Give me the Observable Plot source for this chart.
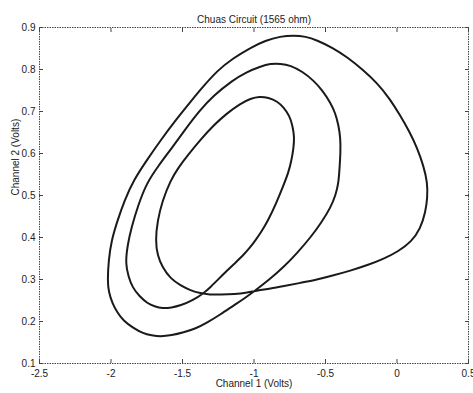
<!DOCTYPE html>
<html>
<head>
<meta charset="utf-8">
<script src="https://cdn.jsdelivr.net/npm/d3@7"></script>
<script src="https://cdn.jsdelivr.net/npm/@observablehq/plot@0.6"></script>
<style>
  html, body { margin: 0; padding: 0; background: #fff; }
</style>
</head>
<body>
<div id="chart"></div>
<script>
const title = "Chuas Circuit (1565 ohm)";
const xLabel = "Channel 1 (Volts)";
const yLabel = "Channel 2 (Volts)";
const xTicks = [-2.5, -2, -1.5, -1, -0.5, 0, 0.5];
const yTicks = [0.1, 0.2, 0.3, 0.4, 0.5, 0.6, 0.7, 0.8, 0.9];

// Channel 1 (x) and Channel 2 (y) samples read along the closed attractor path
const ch1 = [
  -0.976, -1.045, -1.136, -1.234, -1.311, -1.374, -1.444, -1.514, -1.584, -1.640,
  -1.675, -1.689, -1.675, -1.640, -1.584, -1.528, -1.465, -1.374, -1.283, -1.192,
  -1.094, -1.024, -0.962, -0.899, -0.836, -0.794, -0.752, -0.731, -0.717, -0.724,
  -0.738, -0.759, -0.794, -0.843, -0.902, -0.948, -0.990, -1.028, -1.077, -1.136,
  -1.189, -1.245, -1.301, -1.353, -1.430, -1.514, -1.577, -1.640, -1.696, -1.745,
  -1.801, -1.850, -1.878, -1.899, -1.885, -1.857, -1.811, -1.752, -1.668, -1.577,
  -1.486, -1.381, -1.283, -1.150, -1.059, -0.955, -0.885, -0.815, -0.745, -0.661,
  -0.584, -0.521, -0.465, -0.430, -0.409, -0.395, -0.395, -0.402, -0.409, -0.430,
  -0.465, -0.528, -0.605, -0.696, -0.794, -0.899, -0.990, -1.066, -1.143, -1.234,
  -1.325, -1.409, -1.493, -1.577, -1.654, -1.717, -1.773, -1.850, -1.913, -1.955,
  -1.990, -2.017, -2.024, -2.017, -1.997, -1.955, -1.906, -1.843, -1.752, -1.654,
  -1.549, -1.437, -1.367, -1.255, -1.150, -1.024, -0.920, -0.815, -0.724, -0.640,
  -0.556, -0.451, -0.346, -0.241, -0.136, -0.052, 0.024, 0.087, 0.143, 0.185,
  0.213, 0.213, 0.199, 0.164, 0.101, 0.010, -0.094, -0.199, -0.325, -0.465,
  -0.556, -0.675, -0.794, -0.885
];
const ch2 = [
  0.274, 0.269, 0.265, 0.264, 0.264, 0.267, 0.274, 0.286, 0.302, 0.329,
  0.357, 0.393, 0.440, 0.488, 0.536, 0.567, 0.595, 0.633, 0.667, 0.695,
  0.719, 0.731, 0.736, 0.733, 0.724, 0.710, 0.690, 0.667, 0.638, 0.612,
  0.583, 0.555, 0.524, 0.483, 0.440, 0.414, 0.393, 0.376, 0.357, 0.338,
  0.321, 0.302, 0.283, 0.267, 0.250, 0.238, 0.233, 0.231, 0.236, 0.243,
  0.260, 0.281, 0.307, 0.338, 0.381, 0.424, 0.476, 0.529, 0.571, 0.612,
  0.655, 0.702, 0.738, 0.774, 0.793, 0.807, 0.814, 0.814, 0.810, 0.795,
  0.774, 0.750, 0.721, 0.695, 0.667, 0.636, 0.602, 0.564, 0.529, 0.500,
  0.471, 0.436, 0.400, 0.364, 0.329, 0.298, 0.274, 0.255, 0.238, 0.217,
  0.198, 0.183, 0.174, 0.167, 0.164, 0.167, 0.171, 0.186, 0.202, 0.221,
  0.243, 0.271, 0.298, 0.345, 0.393, 0.440, 0.488, 0.536, 0.583, 0.631,
  0.679, 0.726, 0.755, 0.798, 0.826, 0.852, 0.869, 0.879, 0.881, 0.879,
  0.869, 0.852, 0.829, 0.800, 0.767, 0.731, 0.690, 0.652, 0.612, 0.571,
  0.531, 0.495, 0.460, 0.421, 0.390, 0.367, 0.349, 0.335, 0.321, 0.308,
  0.300, 0.292, 0.284, 0.278
];

const points = ch1.map((x, i) => ({x, y: ch2[i]}));
const fmt = d => String(d);

const chart = Plot.plot({
  width: 473,
  height: 393,
  marginLeft: 39,
  marginRight: 5,
  marginTop: 27,
  marginBottom: 30,
  style: {fontFamily: "'Liberation Sans', Arial, sans-serif", fontSize: "10px", background: "#fff", color: "#222"},
  x: {domain: [-2.5, 0.5], label: null},
  y: {domain: [0.1, 0.9], label: null},
  marks: [
    Plot.frame({stroke: "#444", strokeDasharray: "1.5,1"}),
    Plot.axisX(xTicks, {anchor: "bottom", tickSize: 0, tickPadding: 6, tickFormat: fmt, label: null, fill: "#222"}),
    Plot.axisX(xTicks, {anchor: "bottom", tickSize: -4, fill: "none", label: null, stroke: "#444"}),
    Plot.axisX(xTicks, {anchor: "top", tickSize: -4, fill: "none", label: null, stroke: "#444"}),
    Plot.axisY(yTicks, {anchor: "left", tickSize: 0, tickPadding: 4, tickFormat: fmt, label: null, fill: "#222"}),
    Plot.axisY(yTicks, {anchor: "left", tickSize: -4, fill: "none", label: null, stroke: "#444"}),
    Plot.axisY(yTicks, {anchor: "right", tickSize: -4, fill: "none", label: null, stroke: "#444"}),
    Plot.line(points, {x: "x", y: "y", curve: "basis-closed", stroke: "#1a1a1a", strokeWidth: 2}),
    Plot.text([title], {frameAnchor: "top", dy: -12, text: d => d, fontSize: 10, fill: "#222"}),
    Plot.text([xLabel], {frameAnchor: "bottom", dy: 23, text: d => d, fontSize: 10, fill: "#222"}),
    Plot.text([yLabel], {frameAnchor: "left", dx: -24, rotate: -90, text: d => d, fontSize: 10, fill: "#222"})
  ]
});
document.getElementById("chart").appendChild(chart);
</script>
</body>
</html>
